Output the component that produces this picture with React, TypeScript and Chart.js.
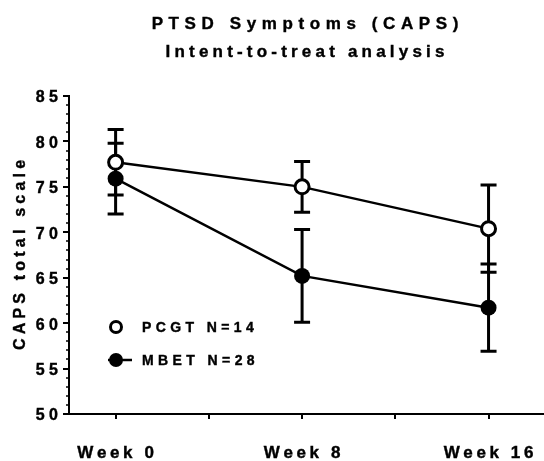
import { useEffect, useRef } from 'react';
import { Chart, registerables } from 'chart.js';
Chart.register(...registerables);

const TITLE_LINES = ['PTSD Symptoms (CAPS)', 'Intent-to-treat analysis'];
const Y_TITLE = 'CAPS total scale';
const WEEKS = [0, 8, 16];
const WEEK_LABELS = ['Week 0', 'Week 8', 'Week 16'];
const X_TICKS = [0, 4, 8, 12, 16];
const Y_TICKS = [50, 55, 60, 65, 70, 75, 80, 85];
const PCGT_LABEL = 'PCGT N=14';
const PCGT_MEAN = [77.7, 75.0, 70.4];
const PCGT_SEM = [3.6, 2.8, 4.8];
const MBET_LABEL = 'MBET N=28';
const MBET_MEAN = [75.9, 65.2, 61.7];
const MBET_SEM = [3.9, 5.1, 4.8];

const FONT = "'Liberation Sans', Arial, sans-serif";

function drawSpaced(ctx: CanvasRenderingContext2D, text: string, x: number, y: number, spacing: number, align: 'left' | 'center' | 'right') {
  const chars = Array.from(text);
  const widths = chars.map((c) => ctx.measureText(c).width);
  const total = widths.reduce((a, b) => a + b, 0) + spacing * (chars.length - 1);
  let cx = align === 'left' ? x : align === 'center' ? x - total / 2 : x - total;
  ctx.textAlign = 'left';
  ctx.lineWidth = 0.4;
  ctx.strokeStyle = '#000';
  chars.forEach((c, i) => {
    ctx.fillText(c, cx, y);
    ctx.strokeText(c, cx, y);
    cx += widths[i] + spacing;
  });
}

export default function App() {
  const ref = useRef<HTMLCanvasElement>(null);
  useEffect(() => {
    const sems = [PCGT_SEM, MBET_SEM];
    const errorBars = {
      id: 'errorBars',
      beforeDatasetsDraw(chart: any) {
        const ctx = chart.ctx as CanvasRenderingContext2D;
        const xs = chart.scales.x;
        const ys = chart.scales.y;
        ctx.save();
        ctx.strokeStyle = '#000';
        ctx.lineWidth = 3;
        chart.data.datasets.forEach((ds: any, di: number) => {
          ds.data.forEach((p: any, i: number) => {
            const x = xs.getPixelForValue(p.x);
            const yt = ys.getPixelForValue(p.y + sems[di][i]);
            const yb = ys.getPixelForValue(p.y - sems[di][i]);
            ctx.beginPath();
            ctx.moveTo(x, yt);
            ctx.lineTo(x, yb);
            ctx.moveTo(x - 8, yt);
            ctx.lineTo(x + 8, yt);
            ctx.moveTo(x - 8, yb);
            ctx.lineTo(x + 8, yb);
            ctx.stroke();
          });
        });
        ctx.restore();
      },
    };
    const decor = {
      id: 'decor',
      afterDraw(chart: any) {
        const ctx = chart.ctx as CanvasRenderingContext2D;
        const xs = chart.scales.x;
        const ys = chart.scales.y;
        const left = chart.chartArea.left;
        const bottom = ys.getPixelForValue(50);
        const top = ys.getPixelForValue(85);
        ctx.save();
        ctx.fillStyle = '#000';
        ctx.strokeStyle = '#000';
        // title
        ctx.font = `bold 17px ${FONT}`;
        ctx.textBaseline = 'alphabetic';
        drawSpaced(ctx, TITLE_LINES[0], 305, 29, 5.6, 'center');
        drawSpaced(ctx, TITLE_LINES[1], 305, 57, 4.2, 'center');
        // y axis
        ctx.lineWidth = 2;
        ctx.beginPath();
        ctx.moveTo(left, top - 1);
        ctx.lineTo(left, bottom);
        ctx.stroke();
        for (let v = 50; v <= 85; v++) {
          const y = Math.round(ys.getPixelForValue(v));
          const major = v % 5 === 0;
          ctx.lineWidth = major ? 2 : 1.5;
          ctx.beginPath();
          ctx.moveTo(left - (major ? 6 : 3), y);
          ctx.lineTo(left, y);
          ctx.stroke();
        }
        ctx.font = `bold 16px ${FONT}`;
        ctx.textBaseline = 'middle';
        Y_TICKS.forEach((v) => {
          drawSpaced(ctx, String(v), 58, ys.getPixelForValue(v) + 2, 4.5, 'right');
        });
        // x axis
        ctx.lineWidth = 2;
        ctx.beginPath();
        ctx.moveTo(left - 5, bottom);
        ctx.lineTo(chart.width, bottom);
        ctx.stroke();
        X_TICKS.forEach((w) => {
          const x = Math.round(xs.getPixelForValue(w));
          ctx.lineWidth = 2;
          ctx.beginPath();
          ctx.moveTo(x, bottom);
          ctx.lineTo(x, bottom + 5);
          ctx.stroke();
        });
        ctx.font = `bold 17px ${FONT}`;
        ctx.textBaseline = 'alphabetic';
        WEEKS.forEach((w, i) => {
          drawSpaced(ctx, WEEK_LABELS[i], xs.getPixelForValue(w), 458, 3.6, 'center');
        });
        // y title
        ctx.save();
        ctx.translate(19, (top + bottom) / 2);
        ctx.rotate(-Math.PI / 2);
        ctx.font = `bold 16px ${FONT}`;
        drawSpaced(ctx, Y_TITLE, 0, 6, 4.2, 'center');
        ctx.restore();
        // legend
        ctx.lineWidth = 3;
        ctx.fillStyle = '#fff';
        ctx.beginPath();
        ctx.arc(116, 327, 5.5, 0, Math.PI * 2);
        ctx.fill();
        ctx.stroke();
        ctx.lineWidth = 2.5;
        ctx.beginPath();
        ctx.moveTo(108, 360);
        ctx.lineTo(132, 360);
        ctx.stroke();
        ctx.fillStyle = '#000';
        ctx.beginPath();
        ctx.arc(116, 360, 7, 0, Math.PI * 2);
        ctx.fill();
        ctx.font = `bold 14px ${FONT}`;
        ctx.textBaseline = 'alphabetic';
        drawSpaced(ctx, PCGT_LABEL, 142, 332, 4.4, 'left');
        drawSpaced(ctx, MBET_LABEL, 142, 365, 4.4, 'left');
        ctx.restore();
      },
    };

    const chart = new Chart(ref.current as HTMLCanvasElement, {
      type: 'line',
      data: {
        datasets: [
          {
            label: PCGT_LABEL,
            data: WEEKS.map((w, i) => ({ x: w, y: PCGT_MEAN[i] })),
            borderColor: '#000',
            borderWidth: 2.5,
            pointRadius: 7,
            pointBorderWidth: 3,
            pointBackgroundColor: '#fff',
            pointBorderColor: '#000',
          },
          {
            label: MBET_LABEL,
            data: WEEKS.map((w, i) => ({ x: w, y: MBET_MEAN[i] })),
            borderColor: '#000',
            borderWidth: 2.5,
            pointRadius: 8,
            pointBorderWidth: 0,
            pointBackgroundColor: '#000',
            pointBorderColor: '#000',
          },
        ],
      },
      options: {
        responsive: false,
        animation: false,
        layout: { padding: { left: 69, top: 96, right: 0, bottom: 47 } },
        scales: {
          x: { type: 'linear', min: -2, max: 17.95, display: false },
          y: { type: 'linear', min: 50, max: 85, display: false },
        },
        plugins: {
          legend: { display: false },
          tooltip: { enabled: false },
          title: { display: false },
        },
      } as any,
      plugins: [errorBars, decor],
    });
    return () => chart.destroy();
  }, []);
  return (
    <div style={{ position: 'absolute', left: 0, top: 0, width: 544, height: 461, background: '#fff' }}>
      <canvas ref={ref} width={544} height={461} style={{ display: 'block' }} />
    </div>
  );
}
